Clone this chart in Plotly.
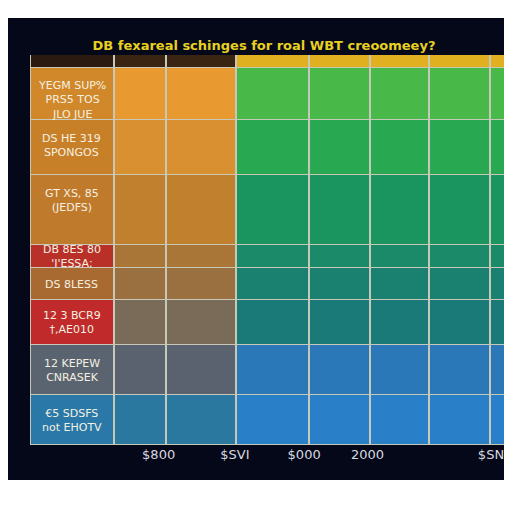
import plotly.graph_objects as go

title = "DB fexareal schinges for roal WBT creoomeey?"
x_edges = [30, 115, 167, 238, 312, 374, 433, 495, 540]
y_edges = [55, 68, 120, 175, 245, 268, 300, 345, 395, 445]
tick_vals = [160, 237, 307, 371, 500]
tick_text = ["$800", "$SVI", "$000", "2000", "$SN6"]

left_colors = ["#2a1a10", "#d0882a", "#c88028", "#c07a2c", "#b83028", "#a86a30", "#c02a2a", "#5a6470", "#2a78a8"]
orange_colors = ["#3a2412", "#e89a30", "#d89030", "#c0802e", "#aa7638", "#9a7040", "#7a6a58", "#5a6270", "#2a78a0"]
green_colors = ["#e0b020", "#48b848", "#28a850", "#1a9560", "#1a8a68", "#1a8070", "#1a7a78", "#2a78b8", "#2a80c8"]

labels = ["YEGM SUP%<br>PRS5 TOS<br>JLO JUE", "DS HE 319<br>SPONGOS", "GT XS, 85<br>(JEDFS)", "DB 8ES 80<br>'I'ESSA;",
          "DS 8LESS", "12 3 BCR9<br>†,AE010", "12 KEPEW<br>CNRASEK", "€5 SDSFS<br>not EHOTV"]
label_y = [100, 145, 200, 256, 284, 322, 370, 420]

col_groups = [left_colors, orange_colors, orange_colors] + [green_colors] * 5
palette = []
z = []
for r in range(len(y_edges) - 1):
    row = []
    for grp in col_groups:
        col = grp[r]
        if col not in palette:
            palette.append(col)
        row.append(palette.index(col))
    z.append(row)
n = len(palette)
cs = []
for i, col in enumerate(palette):
    cs.append([i / n, col])
    cs.append([(i + 1) / n, col])

fig = go.Figure(go.Heatmap(x=x_edges, y=y_edges, z=z, colorscale=cs, zmin=-0.5, zmax=n - 0.5,
                           showscale=False, xgap=2, ygap=1, hoverinfo="skip"))
for t, yv in zip(labels, label_y):
    fig.add_annotation(x=72, y=yv, text=t, showarrow=False,
                       font=dict(color="#f4f0e0", size=11, family="DejaVu Sans"))
fig.update_layout(
    width=512, height=512, margin=dict(l=22, r=8, t=47, b=75),
    paper_bgcolor="#050818", plot_bgcolor="#c8c8b8",
    title=dict(text="<b>" + title + "</b>", x=0.5, y=0.935, xanchor="center",
               font=dict(color="#e8d020", size=13, family="DejaVu Sans")),
    xaxis=dict(range=[30, 512], tickvals=tick_vals, ticktext=tick_text, showgrid=False,
               zeroline=False, tickfont=dict(color="#d8d8e0", size=13, family="DejaVu Sans"), ticks=""),
    yaxis=dict(range=[445, 55], showticklabels=False, showgrid=False, zeroline=False),
    shapes=[dict(type="rect", xref="paper", yref="paper", x0=-0.1, x1=1.1, y0=1.095, y1=1.3,
                 fillcolor="white", line_width=0),
            dict(type="rect", xref="paper", yref="paper", x0=-0.1, x1=1.1, y0=-0.3, y1=-0.09,
                 fillcolor="white", line_width=0)],
)
fig.write_html("out.html")
